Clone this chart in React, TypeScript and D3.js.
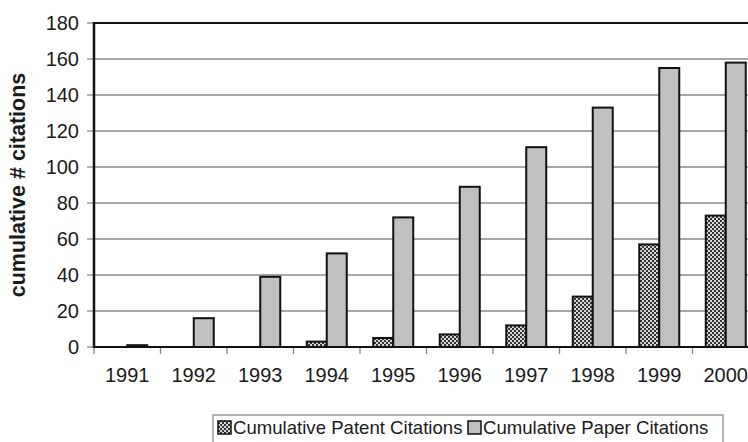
import React from "react";
import * as d3 from "d3";

const years = ["1991","1992","1993","1994","1995","1996","1997","1998","1999","2000"];
const patentCitations = [0, 0, 0, 3, 5, 7, 12, 28, 57, 73];
const paperCitations = [1, 16, 39, 52, 72, 89, 111, 133, 155, 158];
const yTicks = [0, 20, 40, 60, 80, 100, 120, 140, 160, 180];
const seriesNames = ["Cumulative Patent Citations", "Cumulative Paper Citations"];

const W = 748, H = 442;
const left = 94, top = 23, bottom = 347;
const catW = 66.5;
const right = left + catW * years.length;

export default function App() {
  const x = d3.scaleBand<string>().domain(years).range([left, right]).paddingInner(0).paddingOuter(0);
  const y = d3.scaleLinear().domain([0, 180]).range([bottom, top]);
  const barW = 20;
  const font = "'Liberation Sans', Arial, sans-serif";
  return (
    <svg width={W} height={H} style={{ position: "absolute", left: 0, top: 0, background: "#fff" }}>
      <defs>
        <pattern id="chk" width="4" height="4" patternUnits="userSpaceOnUse">
          <rect width="4" height="4" fill="#d8d8d8" />
          <rect width="2" height="2" fill="#333" />
          <rect x="2" y="2" width="2" height="2" fill="#333" />
        </pattern>
      </defs>
      <rect width={W} height={H} fill="#fff" />
      {yTicks.filter(t => t > 0 && t < 180).map(t => (
        <line key={"g" + t} x1={left} x2={right} y1={y(t)} y2={y(t)} stroke="#8a8a8a" strokeWidth={1.3} />
      ))}
      <line x1={left} x2={right} y1={y(180)} y2={y(180)} stroke="#111" strokeWidth={2} />
      {yTicks.map(t => (
        <g key={"yt" + t}>
          <line x1={left - 7} x2={left} y1={y(t)} y2={y(t)} stroke="#888" strokeWidth={1.3} />
          <text x={79} y={y(t)} dy="0.36em" textAnchor="end" fontFamily={font} fontSize={20} fill="#1a1a1a">{t}</text>
        </g>
      ))}
      {years.map((yr, i) => {
        const x0 = x(yr)!;
        const c = x0 + x.bandwidth() / 2;
        return (
          <g key={yr}>
            <line x1={x0} x2={x0} y1={bottom} y2={bottom + 7} stroke="#888" strokeWidth={1.3} />
            {patentCitations[i] > 0 && (
              <rect x={c - barW} y={y(patentCitations[i])} width={barW} height={bottom - y(patentCitations[i])}
                fill="url(#chk)" stroke="#111" strokeWidth={2} />
            )}
            <rect x={c} y={y(paperCitations[i])} width={barW} height={bottom - y(paperCitations[i])}
              fill="#c0c0c0" stroke="#111" strokeWidth={2} />
            <text x={c} y={382} textAnchor="middle" fontFamily={font} fontSize={20} fill="#1a1a1a">{yr}</text>
          </g>
        );
      })}
      <line x1={left} x2={left} y1={top - 1} y2={bottom + 1} stroke="#111" strokeWidth={2.5} />
      <line x1={left} x2={right} y1={bottom} y2={bottom} stroke="#111" strokeWidth={2} />
      <text transform={`translate(25,${(top + bottom) / 2}) rotate(-90)`} textAnchor="middle"
        fontFamily={font} fontSize={21.5} fontWeight="bold" fill="#1a1a1a">cumulative # citations</text>
      <g>
        <rect x={213} y={415} width={510} height={40} fill="#fff" stroke="#888" strokeWidth={1.3} />
        <rect x={218} y={421} width={13} height={13} fill="url(#chk)" stroke="#111" strokeWidth={1.5} />
        <text x={233} y={434} fontFamily={font} fontSize={18.6} fill="#1a1a1a">{seriesNames[0]}</text>
        <rect x={468} y={421} width={13} height={13} fill="#c0c0c0" stroke="#111" strokeWidth={1.5} />
        <text x={483} y={434} fontFamily={font} fontSize={18.6} fill="#1a1a1a">{seriesNames[1]}</text>
      </g>
    </svg>
  );
}
